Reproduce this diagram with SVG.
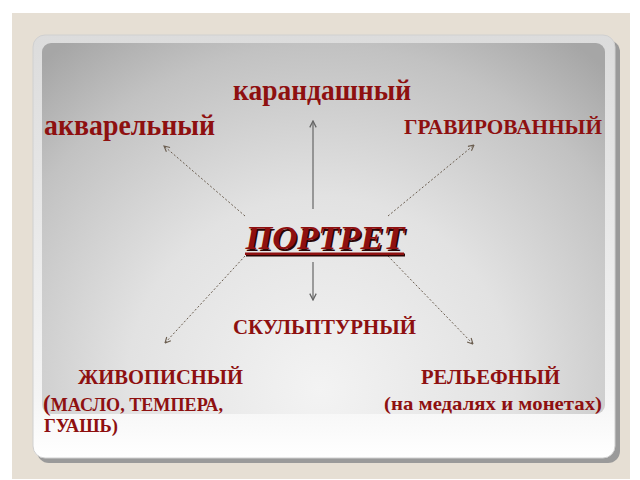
<svg xmlns="http://www.w3.org/2000/svg" width="640" height="480" viewBox="0 0 640 480">
  <defs>
    <radialGradient id="panelGrad" cx="320" cy="390" r="430" gradientUnits="userSpaceOnUse">
      <stop offset="0" stop-color="#f3f3f3"/>
      <stop offset="0.45" stop-color="#e2e2e2"/>
      <stop offset="0.8" stop-color="#c2c2c2"/>
      <stop offset="1" stop-color="#a6a6a6"/>
    </radialGradient>
    <linearGradient id="cardGrad" x1="0" y1="0" x2="0" y2="1">
      <stop offset="0" stop-color="#dcdcdc"/>
      <stop offset="0.85" stop-color="#f4f4f4"/>
      <stop offset="1" stop-color="#ffffff"/>
    </linearGradient>
    <marker id="arrowOpen" viewBox="0 0 10 10" refX="9" refY="5" markerWidth="7" markerHeight="7" orient="auto" markerUnits="userSpaceOnUse">
      <path d="M1,1 L9,5 L1,9" fill="none" stroke="#6b5e50" stroke-width="1.6"/>
    </marker>
    <marker id="arrowGray" viewBox="0 0 10 10" refX="9" refY="5" markerWidth="8" markerHeight="8" orient="auto" markerUnits="userSpaceOnUse">
      <path d="M1,1 L9,5 L1,9" fill="none" stroke="#666" stroke-width="1.6"/>
    </marker>
  </defs>
  <style>
    .lbl { font-family: "Liberation Serif", "DejaVu Serif", serif; font-weight: bold; fill: #8e1010; }
    .big { font-size: 30px; }
    .caps { font-size: 22px; }
    .sub { font-size: 19px; }
    .dash { fill: none; stroke: #6b5e50; stroke-width: 1; stroke-dasharray: 2 2; marker-end: url(#arrowOpen); }
    .solid { fill: none; stroke: #666; stroke-width: 1.2; marker-end: url(#arrowGray); }
  </style>

  <rect x="0" y="0" width="640" height="480" fill="#ffffff"/>
  <rect x="12" y="13" width="618" height="466" fill="#e6dfd4"/>

  <!-- card -->
  <rect x="37" y="40" width="583" height="423" rx="12" fill="#9a9a9a"/>
  <rect x="33" y="35" width="582" height="423" rx="12" fill="url(#cardGrad)" stroke="#d0d0d0" stroke-width="1"/>
  <rect x="42" y="43" width="563" height="371" rx="9" fill="url(#panelGrad)"/>

  <g id="connectors">
    <line class="solid" x1="313" y1="209" x2="313" y2="121"/>
    <line class="solid" x1="313" y1="262" x2="313" y2="300"/>
    <line class="dash" x1="245" y1="216" x2="164" y2="146"/>
    <line class="dash" x1="388" y1="216" x2="474" y2="145"/>
    <line class="dash" x1="245" y1="256" x2="165" y2="343"/>
    <line class="dash" x1="388" y1="256" x2="473" y2="344"/>
  </g>

  <g id="node-center">
    <text x="247" y="250.5" font-family="Liberation Serif, serif" font-weight="bold" font-style="italic" font-size="34" fill="#2a0505" textLength="159" lengthAdjust="spacingAndGlyphs">ПОРТРЕТ</text>
    <text x="245.5" y="249" font-family="Liberation Serif, serif" font-weight="bold" font-style="italic" font-size="34" fill="#8e1010" textLength="159" lengthAdjust="spacingAndGlyphs">ПОРТРЕТ</text>
    <rect x="246" y="253.5" width="159" height="3" fill="#2a0505"/>
    <rect x="245" y="252.5" width="159" height="2.5" fill="#8e1010"/>
  </g>

  <g id="node-karandash">
    <text class="lbl big" x="233" y="100" textLength="178" lengthAdjust="spacingAndGlyphs">карандашный</text>
  </g>
  <g id="node-akvarel">
    <text class="lbl big" x="44" y="135" textLength="171" lengthAdjust="spacingAndGlyphs">акварельный</text>
  </g>
  <g id="node-graviro">
    <text class="lbl caps" x="404" y="134" textLength="198" lengthAdjust="spacingAndGlyphs">ГРАВИРОВАННЫЙ</text>
  </g>
  <g id="node-skulpt">
    <text class="lbl caps" x="233" y="334" textLength="183" lengthAdjust="spacingAndGlyphs">СКУЛЬПТУРНЫЙ</text>
  </g>
  <g id="node-zhivopis">
    <text class="lbl caps" x="78" y="384" textLength="165" lengthAdjust="spacingAndGlyphs">ЖИВОПИСНЫЙ</text>
    <text class="lbl sub" x="43" y="411" textLength="180" lengthAdjust="spacingAndGlyphs"><tspan font-size="24">(</tspan>МАСЛО, ТЕМПЕРА,</text>
    <text class="lbl sub" x="44" y="432" textLength="74" lengthAdjust="spacingAndGlyphs">ГУАШЬ)</text>
  </g>
  <g id="node-relief">
    <text class="lbl caps" x="421" y="384" textLength="139" lengthAdjust="spacingAndGlyphs">РЕЛЬЕФНЫЙ</text>
    <text class="lbl sub" x="384" y="410" textLength="218" lengthAdjust="spacingAndGlyphs">(на медалях и монетах)</text>
  </g>
</svg>
